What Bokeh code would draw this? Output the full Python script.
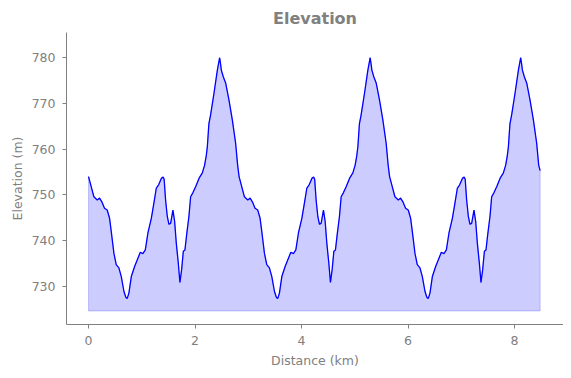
from bokeh.plotting import figure
from bokeh.models import Range1d, FixedTicker
from bokeh.embed import file_html
from bokeh.resources import INLINE

# Distance along the route (km)
dist_km = [
    0.000, 0.050, 0.100, 0.164, 0.207, 0.250, 0.300, 0.350, 0.395, 0.427, 0.476, 0.520, 0.570, 0.615,
    0.664, 0.700, 0.725, 0.758, 0.803, 0.865, 0.927, 0.972, 1.020, 1.066, 1.115, 1.179, 1.227, 1.273,
    1.316, 1.367, 1.400, 1.420, 1.447, 1.479, 1.510, 1.541, 1.585, 1.617, 1.648, 1.686, 1.716, 1.748,
    1.780, 1.810, 1.842, 1.885, 1.917, 1.961, 2.011, 2.074, 2.137, 2.180, 2.210, 2.231, 2.260, 2.293,
    2.355, 2.419, 2.462, 2.480, 2.494, 2.532, 2.575, 2.637, 2.701, 2.763, 2.800,
    2.827, 2.877, 2.927, 2.991, 3.034, 3.077, 3.127, 3.177, 3.222, 3.254, 3.303, 3.347, 3.397, 3.442,
    3.491, 3.527, 3.552, 3.585, 3.630, 3.692, 3.754, 3.799, 3.847, 3.893, 3.942, 4.006, 4.054, 4.100,
    4.143, 4.194, 4.227, 4.247, 4.274, 4.306, 4.337, 4.368, 4.412, 4.444, 4.475, 4.513, 4.543, 4.575,
    4.607, 4.637, 4.669, 4.712, 4.744, 4.788, 4.838, 4.901, 4.964, 5.007, 5.037, 5.058, 5.087, 5.120,
    5.182, 5.246, 5.289, 5.307, 5.321, 5.359, 5.402, 5.464, 5.528, 5.590, 5.627,
    5.654, 5.704, 5.754, 5.818, 5.861, 5.904, 5.954, 6.004, 6.049, 6.081, 6.130, 6.174, 6.224, 6.269,
    6.318, 6.354, 6.379, 6.412, 6.457, 6.519, 6.581, 6.626, 6.674, 6.720, 6.769, 6.833, 6.881, 6.927,
    6.970, 7.021, 7.054, 7.074, 7.101, 7.133, 7.164, 7.195, 7.239, 7.271, 7.302, 7.340, 7.370, 7.402,
    7.434, 7.464, 7.496, 7.539, 7.571, 7.615, 7.665, 7.728, 7.791, 7.834, 7.864, 7.885, 7.914, 7.947,
    8.009, 8.073, 8.116, 8.134, 8.148, 8.186, 8.229, 8.291, 8.355, 8.417, 8.454, 8.481,
]

# Elevation (m)
elev_m = [
    754.0, 751.8, 749.6, 748.9, 749.3, 748.5, 747.1, 746.7, 744.9, 742.0, 737.3, 734.8, 734.1, 732.2,
    729.0, 727.7, 727.4, 728.6, 732.2, 734.4, 736.2, 737.5, 737.2, 738.0, 741.7, 744.9, 748.2, 751.5,
    752.2, 753.6, 753.9, 753.4, 748.9, 745.3, 743.6, 743.8, 746.7, 744.2, 739.5, 735.1, 730.9, 733.7,
    737.7, 738.0, 741.3, 745.3, 749.6, 750.5, 751.8, 753.6, 754.8, 756.5, 758.5, 760.5, 765.5, 767.5,
    772.1, 777.2, 779.9, 778.5, 777.2, 775.7, 774.4, 770.7, 766.3, 761.2, 756.5,
    754.0, 751.8, 749.6, 748.9, 749.3, 748.5, 747.1, 746.7, 744.9, 742.0, 737.3, 734.8, 734.1, 732.2,
    729.0, 727.7, 727.4, 728.6, 732.2, 734.4, 736.2, 737.5, 737.2, 738.0, 741.7, 744.9, 748.2, 751.5,
    752.2, 753.6, 753.9, 753.4, 748.9, 745.3, 743.6, 743.8, 746.7, 744.2, 739.5, 735.1, 730.9, 733.7,
    737.7, 738.0, 741.3, 745.3, 749.6, 750.5, 751.8, 753.6, 754.8, 756.5, 758.5, 760.5, 765.5, 767.5,
    772.1, 777.2, 779.9, 778.5, 777.2, 775.7, 774.4, 770.7, 766.3, 761.2, 756.5,
    754.0, 751.8, 749.6, 748.9, 749.3, 748.5, 747.1, 746.7, 744.9, 742.0, 737.3, 734.8, 734.1, 732.2,
    729.0, 727.7, 727.4, 728.6, 732.2, 734.4, 736.2, 737.5, 737.2, 738.0, 741.7, 744.9, 748.2, 751.5,
    752.2, 753.6, 753.9, 753.4, 748.9, 745.3, 743.6, 743.8, 746.7, 744.2, 739.5, 735.1, 730.9, 733.7,
    737.7, 738.0, 741.3, 745.3, 749.6, 750.5, 751.8, 753.6, 754.8, 756.5, 758.5, 760.5, 765.5, 767.5,
    772.1, 777.2, 779.9, 778.5, 777.2, 775.7, 774.4, 770.7, 766.3, 761.2, 756.5, 755.3,
]

fill_base_m = 724.7
x_ticks = [0, 2, 4, 6, 8]
y_ticks = [730, 740, 750, 760, 770, 780]
x_label = "Distance (km)"
y_label = "Elevation (m)"

FONT = "DejaVu Sans"
GRAY = "#808080"

X0, X1 = -0.414, 8.92
Y0, Y1 = 721.75, 785.4

p = figure(
    width=563, height=370,
    output_backend="svg", toolbar_location=None,
    x_range=Range1d(X0, X1), y_range=Range1d(Y0, Y1),
    title="Elevation",
)
p.min_border = 0
p.min_border_left = 66
p.min_border_right = 0
p.min_border_top = 32
p.min_border_bottom = 45

p.title.align = "center"
p.title.text_font = FONT
p.title.text_font_size = "16px"
p.title.text_font_style = "bold"
p.title.text_color = GRAY
p.title.offset = 0

# Filled area under the profile
px = dist_km + [dist_km[-1], dist_km[0]]
py = elev_m + [fill_base_m, fill_base_m]
p.patch(px, py, fill_color="blue", fill_alpha=0.2, line_color="blue", line_alpha=0.2, line_width=1)

# Profile line
p.line(dist_km, elev_m, line_color="blue", line_width=1.3)

p.xaxis.ticker = FixedTicker(ticks=x_ticks)
p.yaxis.ticker = FixedTicker(ticks=y_ticks)
p.xaxis.axis_label = x_label
p.yaxis.axis_label = y_label

for ax in (p.xaxis[0], p.yaxis[0]):
    ax.axis_line_color = GRAY
    ax.axis_line_width = 1
    ax.major_tick_line_color = GRAY
    ax.major_tick_out = 4
    ax.major_tick_in = 0
    ax.minor_tick_line_color = None
    ax.major_label_text_color = GRAY
    ax.major_label_text_font = FONT
    ax.major_label_text_font_size = "12.5px"
    ax.axis_label_text_color = GRAY
    ax.axis_label_text_font = FONT
    ax.axis_label_text_font_size = "12.5px"
    ax.axis_label_text_font_style = "normal"

p.xaxis.major_label_standoff = 7
p.xaxis.axis_label_standoff = 5
p.yaxis.major_label_standoff = 7
p.yaxis.axis_label_standoff = 4

p.xgrid.grid_line_color = None
p.ygrid.grid_line_color = None
p.outline_line_color = None
p.background_fill_color = "white"
p.border_fill_color = "white"

open("out.html", "w").write(file_html(p, INLINE))
